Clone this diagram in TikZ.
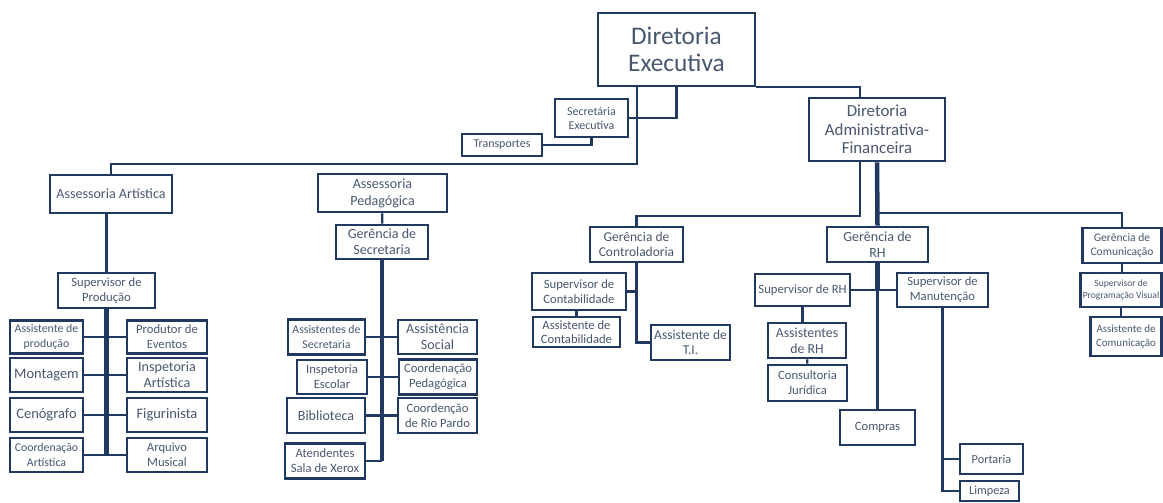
\documentclass[tikz,border=0pt]{standalone}
\usepackage{fontspec}
\setmainfont{Carlito}
\definecolor{boxblue}{RGB}{33,56,96}
\definecolor{txtgray}{RGB}{72,88,112}
\newcommand{\fsz}[2]{\fontsize{#1}{#2}\selectfont}

\begin{document}
\begin{tikzpicture}[
        x=0.025cm, y=-0.025cm,
        block/.style={rectangle, draw=boxblue, line width=1.9pt, fill=white, text=txtgray, align=center, inner sep=0.5pt, font=\fsz{9}{10.5}},
        boxsize/.style 2 args={minimum width=#1*0.025cm, minimum height=#2*0.025cm},
        line/.style={draw=boxblue, line width=1.6pt},
        spine/.style={draw=boxblue, line width=3.2pt}
    ]
    \path[use as bounding box, fill=white] (0,0) rectangle (1163,503);

    % Top level
    \node[block, boxsize={157}{73}, font=\fsz{18}{19}] (dirExec) at (676.5,49.5) {Diretoria\\Executiva};
    \node[block, boxsize={73}{38}, font=\fsz{8.5}{10}] (secExec) at (591.5,118) {Secretária\\Executiva};
    \node[block, boxsize={80}{22}, font=\fsz{8.5}{10}] (transp) at (502,145) {Transportes};
    \node[block, boxsize={136}{63}, font=\fsz{12}{13}] (dirAdm) at (877,129.5) {Diretoria\\Administrativa-\\Financeira};

    % Assessorias
    \node[block, boxsize={122}{38}, font=\fsz{10}{12}] (assArt) at (111,194) {Assessoria Artística};
    \node[block, boxsize={129}{38}, font=\fsz{10}{12}] (assPed) at (382.5,193) {Assessoria\\Pedagógica};
    \node[block, boxsize={92}{34}, font=\fsz{10}{11.5}] (gerSec) at (382,242) {Gerência de\\Secretaria};
    \node[block, boxsize={97}{35}] (supProd) at (106.5,290.5) {Supervisor de\\Produção};

    % Producao
    \node[block, boxsize={73}{33}, font=\fsz{8.4}{10.5}] (assProd) at (46.5,337) {Assistente de\\produção};
    \node[block, boxsize={73}{34}, font=\fsz{10.3}{12}] (montagem) at (46.5,375) {Montagem};
    \node[block, boxsize={73}{34}, font=\fsz{10.3}{12}] (cenog) at (46.5,415) {Cenógrafo};
    \node[block, boxsize={73}{34}, font=\fsz{8.4}{10.5}] (coordArt) at (46.5,455) {Coordenação\\Artística};
    \node[block, boxsize={80}{33}] (prodEv) at (167,337) {Produtor de\\Eventos};
    \node[block, boxsize={80}{34}, font=\fsz{10}{11.5}] (inspArt) at (167,375) {Inspetoria\\Artística};
    \node[block, boxsize={80}{34}, font=\fsz{10.3}{12}] (figur) at (167,415) {Figurinista};
    \node[block, boxsize={80}{34}] (arqMus) at (167,455) {Arquivo\\Musical};

    % Secretaria
    \node[block, boxsize={77}{35}, font=\fsz{8.4}{10.5}] (assSec) at (326.5,337) {Assistentes de\\Secretaria};
    \node[block, boxsize={70}{34}] (inspEsc) at (332,377) {Inspetoria\\Escolar};
    \node[block, boxsize={78}{35}, font=\fsz{10}{12}] (biblio) at (326,415.5) {Biblioteca};
    \node[block, boxsize={80}{35}] (atend) at (325,461) {Atendentes\\Sala de Xerox};
    \node[block, boxsize={79}{34}, font=\fsz{10}{11.5}] (assSoc) at (437.5,337) {Assistência\\Social};
    \node[block, boxsize={78}{35}] (coordPed) at (438,377) {Coordenação\\Pedagógica};
    \node[block, boxsize={79}{35}] (coordRio) at (437.5,415.5) {Coordenção\\de Rio Pardo};

    % Controladoria
    \node[block, boxsize={93}{35}, font=\fsz{9.6}{11}] (gerCont) at (636.5,244.5) {Gerência de\\Controladoria};
    \node[block, boxsize={94}{37}] (supCont) at (579,291.5) {Supervisor de\\Contabilidade};
    \node[block, boxsize={87}{30}, inner ysep=0pt, font=\fsz{9}{10}] (assCont) at (576.5,332) {Assistente de\\Contabilidade};
    \node[block, boxsize={79}{35}, font=\fsz{9.6}{11}] (assTI) at (690.5,342.5) {Assistente de\\T.I.};

    % RH
    \node[block, boxsize={101}{35}, font=\fsz{10}{11.5}] (gerRH) at (877.5,244.5) {Gerência de\\RH};
    \node[block, boxsize={95}{32}] (supRH) at (802.5,290) {Supervisor de RH};
    \node[block, boxsize={91}{34}] (supMan) at (942.5,290) {Supervisor de\\Manutenção};
    \node[block, boxsize={78}{35}, font=\fsz{9.8}{11.5}] (assRH) at (807,340.5) {Assistentes\\de RH};
    \node[block, boxsize={79}{36}] (consJur) at (807.5,383) {Consultoria\\Jurídica};
    \node[block, boxsize={75}{35}] (compras) at (877.5,427.5) {Compras};
    \node[block, boxsize={63}{30}, font=\fsz{8.7}{10}] (portaria) at (991.5,459) {Portaria};
    \node[block, boxsize={59}{20}, font=\fsz{8.7}{10}] (limpeza) at (989.5,491) {Limpeza};

    % Comunicacao
    \node[block, boxsize={79}{35}, font=\fsz{8.2}{10}] (gerCom) at (1122,245.5) {Gerência de\\Comunicação};
    \node[block, boxsize={81}{34}, inner xsep=0pt, font=\fsz{6.8}{8.5}] (supProg) at (1121,290) {Supervisor de\\Programação Visual};
    \node[block, boxsize={71}{39}, font=\fsz{7.8}{10}] (assCom) at (1126,336.5) {Assistente de\\Comunicação};

    % Bars
    \coordinate (artBar) at (637,164);
    \coordinate (admBar) at (860,216);
    \coordinate (comBar) at (877,213);

    % Connections - top
    \path[line] (dirExec.south -| artBar) -- (artBar) -| (assArt.north);
    \path[line] (dirExec.south) |- (secExec.east);
    \path[line] (transp.east) -| (secExec.south);
    \path[line] (dirExec.south east) -| (admBar |- dirAdm.north);
    \path[line] (dirAdm.south -| admBar) -- (admBar) -| (gerCont.north);
    \path[spine] (dirAdm.south) -- (gerRH.north);
    \path[line] (comBar) -| (gerCom.north);

    % Connections - artistica
    \path[line] (assArt.south -| supProd.north) -- (supProd.north);
    \path[spine] (supProd.south) -- (supProd.south |- coordArt.east);
    \path[line] (assProd.east) -- (prodEv.west);
    \path[line] (montagem.east) -- (inspArt.west);
    \path[line] (cenog.east) -- (figur.west);
    \path[line] (coordArt.east) -- (arqMus.west);

    % Connections - pedagogica
    \path[line] (assPed) -- (gerSec);
    \path[spine] (gerSec.south) -- (gerSec.south |- atend.east);
    \path[line] (gerSec.south |- atend.east) -- (atend.east);
    \path[line] (assSec.east) -- (assSoc.west);
    \path[line] (inspEsc.east) -- (coordPed.west);
    \path[line] (biblio.east) -- (coordRio.west);

    % Connections - controladoria
    \path[line] (gerCont.south) |- (assTI.west);
    \path[line] (supCont.east) -- (supCont.east -| gerCont.south);
    \path[line] (assCont.north) -- (assCont.north |- supCont.south);

    % Connections - RH
    \path[spine] (gerRH.south) -- (gerRH.south |- supRH.east);
    \path[line] (supRH.east) -- (supMan.west);
    \path[line] (gerRH.south |- supRH.east) -- (compras.north);
    \path[line] (supRH.south) -- (supRH.south |- assRH.north);
    \path[line] (assRH) -- (consJur);
    \path[line] (supMan.south) |- (limpeza.west);
    \path[line] (portaria.west) -- (portaria.west -| supMan.south);

    % Connections - comunicacao
    \path[line] (gerCom.south) -- (gerCom.south |- supProg.north);
    \path[line] (supProg.south) -- (supProg.south |- assCom.north);

\end{tikzpicture}
\end{document}
